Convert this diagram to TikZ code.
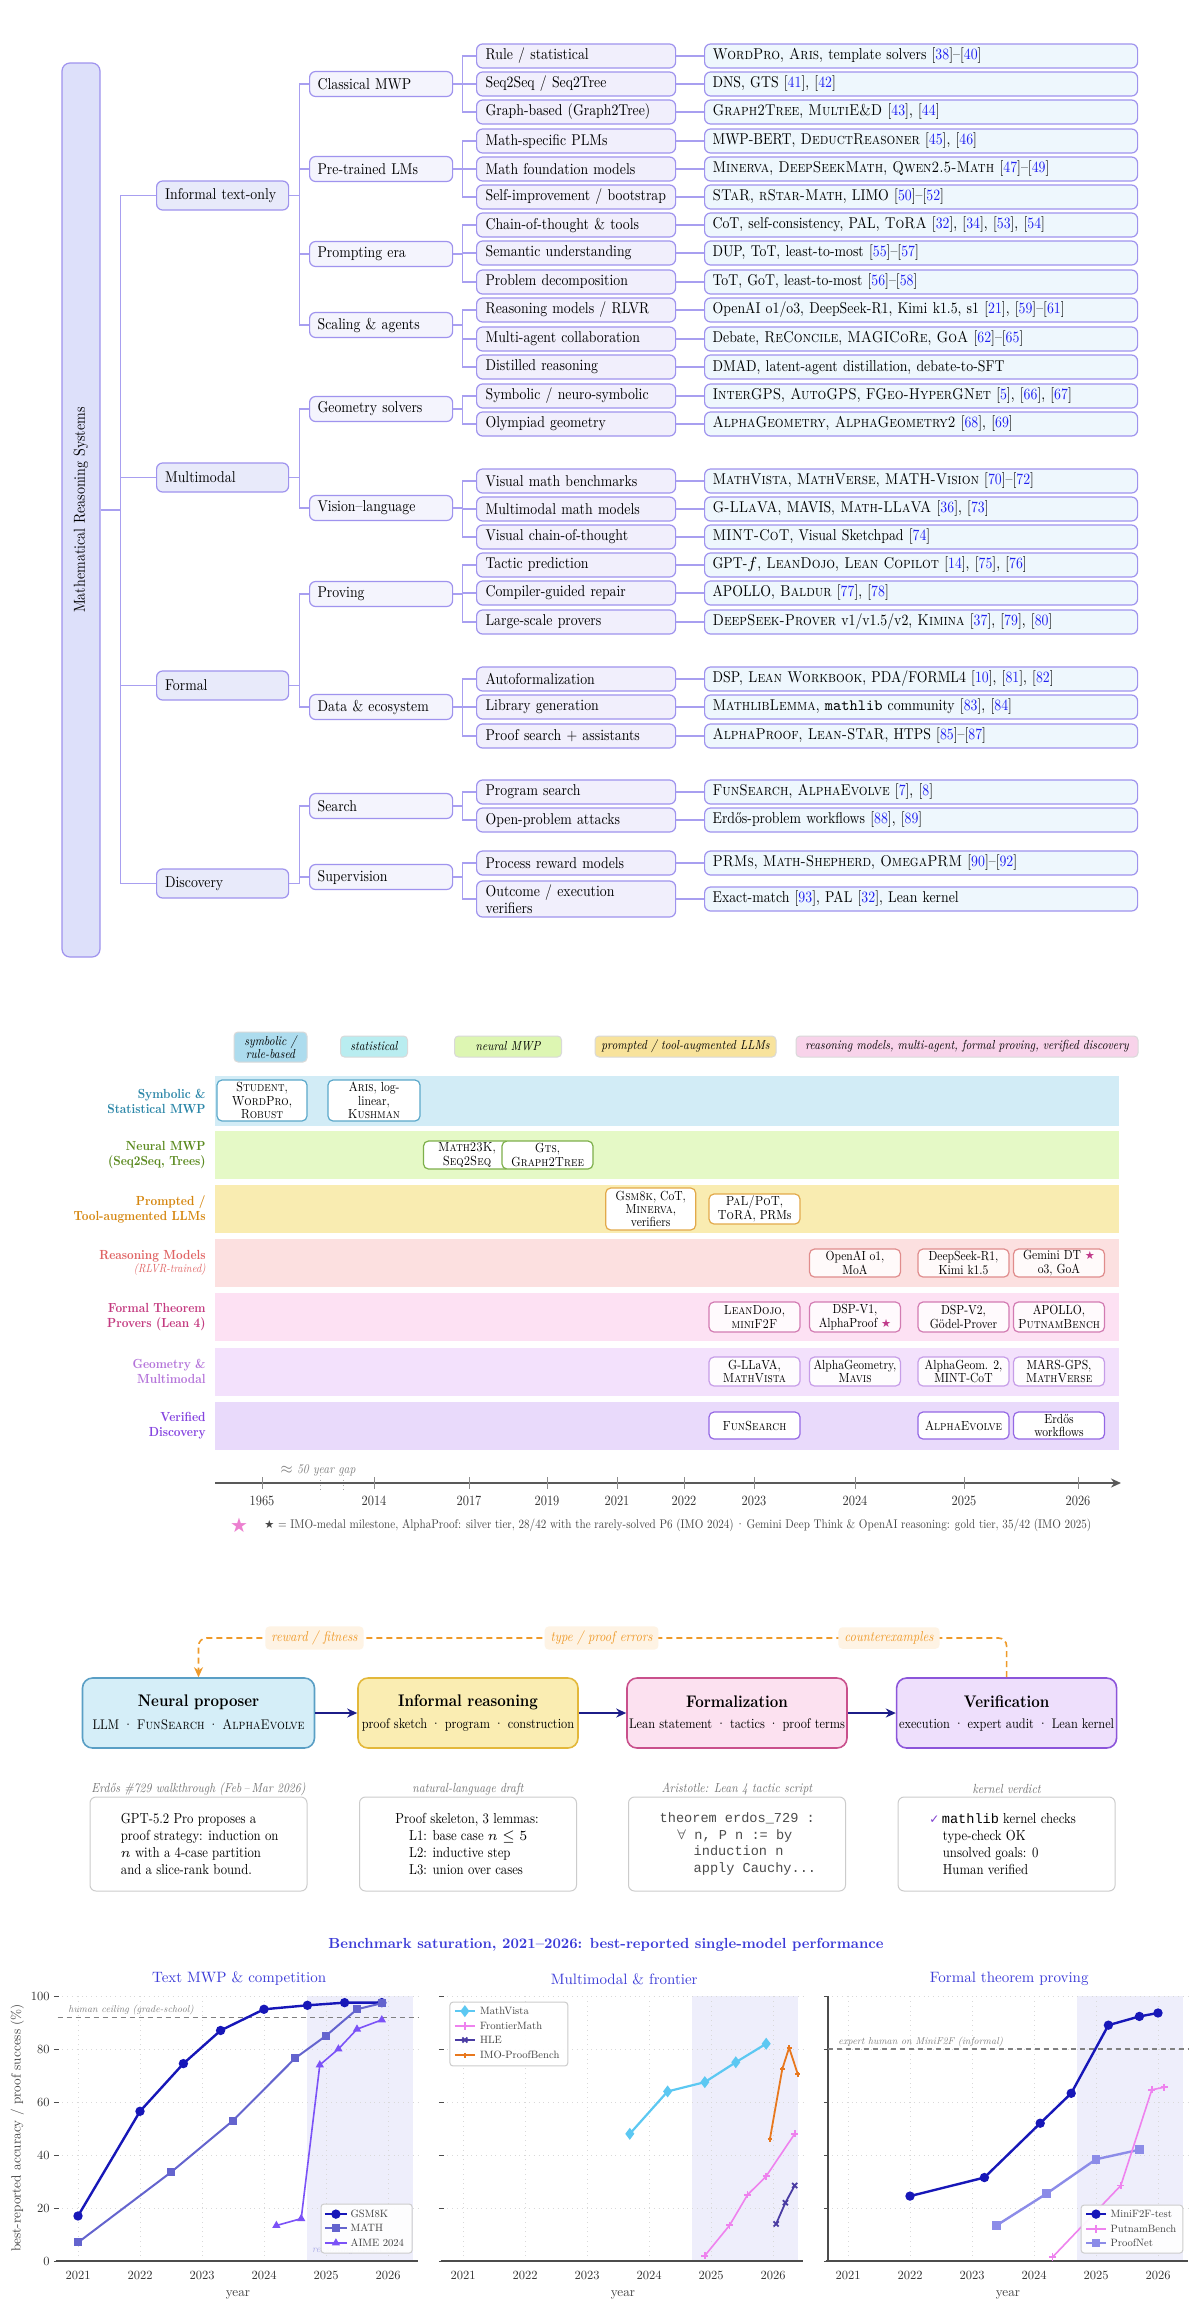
\documentclass[tikz,border=0pt]{standalone}
\usepackage{graphicx}
\usepackage{fontspec}
\setmainfont{lmroman10-regular.otf}[FakeStretch=0.88, BoldFont=lmroman10-bold.otf, ItalicFont=lmroman10-italic.otf, BoldItalicFont=lmroman10-bolditalic.otf, SmallCapsFont=lmromancaps10-regular.otf, SmallCapsFeatures={FakeStretch=0.88}]
\setmonofont{lmmono10-regular.otf}
\usetikzlibrary{arrows.meta,plotmarks,calc}
\newfontfamily\dejavu{DejaVu Sans}
\newfontfamily\codefont{Liberation Mono}
\newfontfamily\chartfont{lmroman10-regular.otf}[Ligatures=TeX, ItalicFont=lmroman10-italic.otf, BoldFont=lmroman10-bold.otf]
\newcommand\fsz[2]{\fontsize{\fpeval{#1*1.136}}{#2}\selectfont}
\newcommand\fszr[2]{\fontsize{#1}{#2}\selectfont}
% tree colours
\definecolor{refblue}{HTML}{1F1FF0}
\definecolor{tborder}{HTML}{9F93EE}
\definecolor{tline}{HTML}{A89FF0}
\definecolor{rootfill}{HTML}{DDE0FA}
\definecolor{onefill}{HTML}{E8EAFA}
\definecolor{twofill}{HTML}{F4F4FD}
\definecolor{threefill}{HTML}{F1EFFC}
\definecolor{leaffill}{HTML}{EEF7FD}
% timeline colours
\definecolor{lane1}{HTML}{D2ECF6}\definecolor{lane2}{HTML}{E5F9C6}
\definecolor{lane3}{HTML}{F9ECB1}\definecolor{lane4}{HTML}{FCE0E0}
\definecolor{lane5}{HTML}{FDE1F3}\definecolor{lane6}{HTML}{F3E1FC}
\definecolor{lane7}{HTML}{E9DAFB}
\definecolor{lab1}{HTML}{2B86A8}\definecolor{lab2}{HTML}{5B8A1F}
\definecolor{lab3}{HTML}{D5860E}\definecolor{lab4}{HTML}{E06464}
\definecolor{lab5}{HTML}{C43A80}\definecolor{lab6}{HTML}{B574DA}
\definecolor{lab7}{HTML}{8544E0}
\definecolor{ev1}{HTML}{5BA8CA}\definecolor{ev2}{HTML}{7DAF4A}
\definecolor{ev3}{HTML}{E2A94A}\definecolor{ev4}{HTML}{E08C8C}
\definecolor{ev5}{HTML}{D27BB2}\definecolor{ev6}{HTML}{C69DE8}
\definecolor{ev7}{HTML}{9468E4}
\definecolor{ch1}{HTML}{ADDCEE}\definecolor{ch2}{HTML}{B9EDF0}
\definecolor{ch3}{HTML}{DDF6B2}\definecolor{ch4}{HTML}{F8E39C}
\definecolor{ch5}{HTML}{F8D3EA}
\definecolor{cstar}{HTML}{C03A8A}\definecolor{cpinkstar}{HTML}{EC80D0}
% pipeline colours
\definecolor{neufill}{HTML}{D5EEF8}\definecolor{neudraw}{HTML}{5A9FC5}
\definecolor{inffill}{HTML}{FAEDB2}\definecolor{infdraw}{HTML}{E3B83A}
\definecolor{frmfill}{HTML}{FCE1F0}\definecolor{frmdraw}{HTML}{C9508C}
\definecolor{verfill}{HTML}{EEDFFC}\definecolor{verdraw}{HTML}{8C55DA}
\definecolor{navy}{HTML}{1C1C88}\definecolor{fborange}{HTML}{EE9A2A}
\definecolor{fbfill}{HTML}{FEF3E4}\definecolor{chk}{HTML}{8040D0}
% chart colours
\definecolor{cgsm}{HTML}{1717B8}\definecolor{cmath}{HTML}{6464CE}
\definecolor{caime}{HTML}{7B52F7}\definecolor{cmv}{HTML}{5CC8F2}
\definecolor{cfm}{HTML}{EE82EE}\definecolor{chle}{HTML}{4A3CA3}
\definecolor{cimo}{HTML}{E8781E}\definecolor{cpnet}{HTML}{8C8CE8}
\definecolor{ctitle}{HTML}{3B3BD8}\definecolor{cshade}{HTML}{EEEEFB}
\newcommand\rfn[1]{[\textcolor{refblue}{#1}]}
\tikzset{
 tl/.style={draw=tline, line width=0.6pt},
 tbox/.style={draw=tborder, line width=0.6pt, rounded corners=3pt, anchor=west, align=left, inner ysep=0pt, font=\fsz{6.9}{8.3}},
 rootb/.style={draw=tborder, fill=rootfill, line width=0.6pt, rounded corners=4pt, minimum width=19pt, minimum height=447pt, inner sep=0pt, font=\fsz{7}{8}},
 lone/.style={tbox, fill=onefill, minimum height=14.5pt, inner xsep=4.25pt, text width=57.5pt},
 ltwo/.style={tbox, fill=twofill, minimum height=12.5pt, inner xsep=4pt, text width=63.5pt},
 lthree/.style={tbox, fill=threefill, minimum height=12pt, inner xsep=4.5pt, text width=90.5pt},
 leafb/.style={tbox, fill=leaffill, minimum height=12pt, inner xsep=4pt, text width=208.5pt},
 lane/.style={minimum width=452pt, minimum height=24pt, inner sep=0pt, draw=none},
 lanelab/.style={anchor=east, align=right, font=\fsz{5.8}{7.5}\bfseries, inner sep=0pt},
 evt/.style={draw, rounded corners=2.5pt, line width=0.6pt, align=center, inner sep=0pt, minimum width=45.5pt, font=\fsz{5.8}{6.7}},
 chip/.style={draw=black!15, line width=0.5pt, rounded corners=2pt, align=center, inner sep=0pt, minimum height=10.5pt, font=\fsz{5.75}{6.7}\itshape},
 pbox/.style={rounded corners=5pt, line width=0.8pt, minimum width=110pt, minimum height=35pt, inner sep=0pt},
 ptit/.style={font=\fsz{7.4}{9}\bfseries, inner sep=0pt},
 psub/.style={font=\fsz{6.15}{8}, inner sep=0pt},
 parr/.style={draw=navy, line width=0.9pt, -{Stealth[length=5pt,width=4.5pt]}},
 fb/.style={draw=fborange, line width=0.8pt, dash pattern=on 3pt off 2pt, rounded corners=4pt, -{Stealth[length=5pt,width=4.5pt]}},
 fblab/.style={fill=fbfill, text=fborange, font=\fsz{6.3}{7}\itshape, rounded corners=2pt, inner xsep=3pt, inner ysep=2.2pt},
 exbox/.style={draw=black!20, fill=white, line width=0.5pt, rounded corners=3pt, minimum width=108.5pt, minimum height=47pt, inner sep=0pt},
 capt/.style={font=\fsz{5.8}{7}\itshape, text=black!55, inner sep=0pt},
 extxt/.style={anchor=west, align=left, inner sep=0pt, font=\fsz{6.37}{8.35}},
 chshade/.style={fill=cshade},
 chgrid/.style={draw=black!15, line width=0.4pt, dotted},
 chtick/.style={draw=black!70, line width=0.5pt},
 chaxis/.style={draw=black!70, line width=1pt},
 chtl/.style={font=\chartfont\fszr{6.25}{7}, text=black!80, inner sep=0pt},
 chxl/.style={font=\chartfont\fszr{6.6}{7}, text=black!75, inner sep=0pt},
 chtitle/.style={font=\chartfont\fszr{7.5}{9}, text=ctitle, inner sep=0pt},
 hum/.style={draw=black!50, line width=0.6pt, dash pattern=on 2.5pt off 2pt},
 humlab/.style={anchor=west, font=\chartfont\fszr{5}{6}\itshape, text=black!50, inner sep=0pt},
 legbox/.style={draw=black!20, fill=white, fill opacity=0.92, line width=0.5pt, rounded corners=1.5pt},
 chleg/.style={anchor=west, font=\chartfont\fszr{5.3}{6}, text=black!75, inner sep=0pt},
 sgsm/.style={draw=cgsm, line width=1.2pt, mark=*, mark size=1.7pt, mark options={fill=cgsm}},
 smath/.style={draw=cmath, line width=1pt, mark=square*, mark size=1.5pt, mark options={fill=cmath}},
 saime/.style={draw=caime, line width=0.8pt, mark=triangle*, mark size=1.6pt, mark options={fill=caime}},
 smv/.style={draw=cmv, line width=1.1pt, mark=diamond*, mark size=2.1pt, mark options={fill=cmv}},
 sfm/.style={draw=cfm, line width=0.8pt, mark=+, mark size=1.8pt},
 shle/.style={draw=chle, line width=0.9pt, mark=x, mark size=1.8pt},
 simo/.style={draw=cimo, line width=0.9pt, mark=+, mark size=1.2pt},
 spnet/.style={draw=cpnet, line width=1.2pt, mark=square*, mark size=1.6pt, mark options={fill=cpnet}},
}
\newcommand\trow[5]{%
 \node[lthree] (#1) at (476,#2) {#3};
 \node[leafb] (#1L) at (704,#2) {#4};
 \draw[tl] (#1.east) -- (#1L.west);
 \draw[tl] (#5.east) -- ++(4.5pt,0) |- (#1.west);}
\newcommand\panelbase[1]{%
 \fill[chshade] (3.7,0) rectangle (5.4,100);
 \foreach \vv in {20,40,60,80,100} {\draw[chgrid] (-0.33,\vv) -- (5.48,\vv);}
 \foreach \yy in {0,...,5} {\draw[chgrid] (\yy,0) -- (\yy,100);}
 \foreach \vv in {0,20,...,100} {\draw[chtick] (-0.39,\vv) -- (-0.31,\vv);}
 \draw[chaxis] (-0.36,0) -- (5.48,0);
 \foreach \yy/\yr in {0/2021,1/2022,2/2023,3/2024,4/2025,5/2026} {\node[chtl] (#1-\yr) at (\yy,-5.3) {\yr};}
 \node[chxl] (#1-xl) at (2.58,-12.8) {year};}
% style, x1, xm, x2, v, xt, text, name
\newcommand\legitem[8]{%
 \draw[#1, mark indices={2}] plot coordinates {(#2,#5) (#3,#5) (#4,#5)};
 \node[chleg] (#8) at (#6,#5) {#7};}
\begin{document}
\begin{tikzpicture}[x=0.5pt,y=-0.5pt]
\useasboundingbox (0,0) rectangle (1200,2320);
\fill[white] (0,0) rectangle (1200,2320);

%================ TREE =================
\node[rootb] (root) at (81,510) {\rotatebox{90}{Mathematical Reasoning Systems}};
\node[lone] (inf) at (156,195.5) {Informal text-only};
\node[lone] (mm) at (156,477.5) {Multimodal};
\node[lone] (fo) at (156,685.5) {Formal};
\node[lone] (di) at (156,883.5) {Discovery};
\foreach \nn in {inf,mm,fo,di} {\draw[tl] (root.east) -- ++(9.75pt,0) |- (\nn.west);}

\node[ltwo] (cm) at (309,84) {Classical MWP};
\node[ltwo] (ptl) at (309,169) {Pre-trained LMs};
\node[ltwo] (pe) at (309,254) {Prompting era};
\node[ltwo] (sa) at (309,325) {Scaling \& agents};
\node[ltwo] (gs) at (309,409) {Geometry solvers};
\node[ltwo] (vl) at (309,508) {Vision--language};
\node[ltwo] (prv) at (309,594) {Proving};
\node[ltwo] (de) at (309,707) {Data \& ecosystem};
\node[ltwo] (se) at (309,806) {Search};
\node[ltwo] (su) at (309,877) {Supervision};
\foreach \pp/\cc in {inf/cm,inf/ptl,inf/pe,inf/sa,mm/gs,mm/vl,fo/prv,fo/de,di/se,di/su}
  {\draw[tl] (\pp.east) -- ++(5.25pt,0) |- (\cc.west);}

\trow{ra}{56}{Rule / statistical}{\textsc{WordPro}, \textsc{Aris}, template solvers \rfn{38}--\rfn{40}}{cm}
\trow{rb}{84}{Seq2Seq / Seq2Tree}{DNS, GTS \rfn{41}, \rfn{42}}{cm}
\trow{rc}{112}{Graph-based (Graph2Tree)}{\textsc{Graph2Tree}, \textsc{MultiE\&D} \rfn{43}, \rfn{44}}{cm}
\trow{rd}{141}{Math-specific PLMs}{MWP-BERT, \textsc{DeductReasoner} \rfn{45}, \rfn{46}}{ptl}
\trow{re}{169}{Math foundation models}{\textsc{Minerva}, \textsc{DeepSeekMath}, \textsc{Qwen2.5-Math} \rfn{47}--\rfn{49}}{ptl}
\trow{rf}{197}{Self-improvement / bootstrap}{\textsc{STaR}, \textsc{rStar-Math}, LIMO \rfn{50}--\rfn{52}}{ptl}
\trow{rg}{225}{Chain-of-thought \& tools}{CoT, self-consistency, PAL, \textsc{ToRA} \rfn{32}, \rfn{34}, \rfn{53}, \rfn{54}}{pe}
\trow{rh}{253}{Semantic understanding}{DUP, ToT, least-to-most \rfn{55}--\rfn{57}}{pe}
\trow{ri}{282}{Problem decomposition}{ToT, GoT, least-to-most \rfn{56}--\rfn{58}}{pe}
\trow{rj}{310}{Reasoning models / RLVR}{OpenAI o1/o3, DeepSeek-R1, Kimi k1.5, s1 \rfn{21}, \rfn{59}--\rfn{61}}{sa}
\trow{rk}{339}{Multi-agent collaboration}{Debate, \textsc{ReConcile}, \textsc{MAGICoRe}, \textsc{GoA} \rfn{62}--\rfn{65}}{sa}
\trow{rl}{367}{Distilled reasoning}{DMAD, latent-agent distillation, debate-to-SFT}{sa}
\trow{rm}{396}{Symbolic / neuro-symbolic}{\textsc{InterGPS}, \textsc{AutoGPS}, \textsc{FGeo-HyperGNet} \rfn{5}, \rfn{66}, \rfn{67}}{gs}
\trow{rn}{424}{Olympiad geometry}{\textsc{AlphaGeometry}, \textsc{AlphaGeometry2} \rfn{68}, \rfn{69}}{gs}
\trow{ro}{481}{Visual math benchmarks}{\textsc{MathVista}, \textsc{MathVerse}, \textsc{MATH-Vision} \rfn{70}--\rfn{72}}{vl}
\trow{rp}{509}{Multimodal math models}{\textsc{G-LLaVA}, MAVIS, \textsc{Math-LLaVA} \rfn{36}, \rfn{73}}{vl}
\trow{rq}{537}{Visual chain-of-thought}{\textsc{MINT-CoT}, Visual Sketchpad \rfn{74}}{vl}
\trow{rr}{565}{Tactic prediction}{GPT-$f$, \textsc{LeanDojo}, \textsc{Lean Copilot} \rfn{14}, \rfn{75}, \rfn{76}}{prv}
\trow{rs}{593}{Compiler-guided repair}{APOLLO, \textsc{Baldur} \rfn{77}, \rfn{78}}{prv}
\trow{rt}{622}{Large-scale provers}{\textsc{DeepSeek-Prover} v1/v1.5/v2, \textsc{Kimina} \rfn{37}, \rfn{79}, \rfn{80}}{prv}
\trow{ru}{679}{Autoformalization}{DSP, \textsc{Lean Workbook}, PDA/FORML4 \rfn{10}, \rfn{81}, \rfn{82}}{de}
\trow{rv}{707}{Library generation}{\textsc{MathlibLemma}, \texttt{mathlib} community \rfn{83}, \rfn{84}}{de}
\trow{rw}{736}{Proof search + assistants}{\textsc{AlphaProof}, \textsc{Lean-STaR}, HTPS \rfn{85}--\rfn{87}}{de}
\trow{rx}{792}{Program search}{\textsc{FunSearch}, \textsc{AlphaEvolve} \rfn{7}, \rfn{8}}{se}
\trow{ry}{820}{Open-problem attacks}{Erdős-problem workflows \rfn{88}, \rfn{89}}{se}
\trow{rz}{863}{Process reward models}{\textsc{PRMs}, \textsc{Math-Shepherd}, \textsc{OmegaPRM} \rfn{90}--\rfn{92}}{su}
\node[lthree, minimum height=18pt] (rzz) at (476,899) {Outcome / execution\\verifiers};
\node[leafb] (rzzL) at (704,899) {Exact-match \rfn{93}, PAL \rfn{32}, Lean kernel};
\draw[tl] (rzz.east) -- (rzzL.west);
\draw[tl] (su.east) -- ++(4.5pt,0) |- (rzz.west);

%================ TIMELINE =================
\node[chip, fill=ch1, minimum width=36.5pt, minimum height=15pt] (chA) at (270.5,1047) {symbolic /\\rule-based};
\node[chip, fill=ch2, minimum width=33.5pt] (chB) at (374,1046.5) {statistical};
\node[chip, fill=ch3, minimum width=53.5pt] (chC) at (508,1046.5) {neural MWP};
\node[chip, fill=ch4, minimum width=90.5pt] (chD) at (685.5,1046.5) {prompted / tool-augmented LLMs};
\node[chip, fill=ch5, minimum width=171pt] (chE) at (967,1046.5) {reasoning models, multi-agent, formal proving, verified discovery};

\node[lane, fill=lane1, minimum height=25pt] (L1) at (667,1101) {};
\node[lane, fill=lane2] (L2) at (667,1155) {};
\node[lane, fill=lane3] (L3) at (667,1209) {};
\node[lane, fill=lane4] (L4) at (667,1263) {};
\node[lane, fill=lane5] (L5) at (667,1317) {};
\node[lane, fill=lane6] (L6) at (667,1371.5) {};
\node[lane, fill=lane7] (L7) at (667,1426) {};

\node[lanelab, text=lab1] (LL1) at (206,1101) {Symbolic \&\\Statistical MWP};
\node[lanelab, text=lab2] (LL2) at (206,1155) {Neural MWP\\(Seq2Seq, Trees)};
\node[lanelab, text=lab3] (LL3) at (206,1209) {Prompted /\\Tool-augmented LLMs};
\node[lanelab, text=lab4] (LL4) at (206,1263) {Reasoning Models\\[-1pt]{\mdseries\itshape\fsz{5.2}{6.5}(RLVR-trained)}};
\node[lanelab, text=lab5] (LL5) at (206,1317) {Formal Theorem\\Provers (Lean 4)};
\node[lanelab, text=lab6] (LL6) at (206,1371.5) {Geometry \&\\Multimodal};
\node[lanelab, text=lab7] (LL7) at (206,1426) {Verified\\Discovery};

% lane 1
\node[evt, draw=ev1, fill=white, minimum width=45pt, minimum height=20.5pt] (eStu) at (262,1100.5) {\textsc{Student},\\\textsc{WordPro},\\\textsc{Robust}};
\node[evt, draw=ev1, fill=white, minimum width=46pt, minimum height=20.5pt] (eAri) at (374,1100.5) {\textsc{Aris}, log-\\linear,\\\textsc{Kushman}};
% lane 2
\node[evt, draw=ev2, fill=white, minimum width=43.5pt, minimum height=14pt] (eM23) at (467,1155) {\textsc{Math23K},\\\textsc{Seq2Seq}};
\node[evt, draw=ev2, fill=white, minimum height=14pt] (eGts) at (547.5,1155) {\textsc{Gts},\\\textsc{Graph2Tree}};
% lane 3
\node[evt, draw=ev3, fill=white, minimum width=45pt, minimum height=21pt] (eGsm) at (650.7,1209) {\textsc{Gsm8k}, CoT,\\\textsc{Minerva},\\verifiers};
\node[evt, draw=ev3, fill=white, minimum height=15pt] (ePal) at (754.5,1209) {\textsc{PaL/PoT},\\\textsc{ToRA}, PRMs};
% lane 4
\node[evt, draw=ev4, fill=red!2, minimum height=14pt] (eO1) at (855,1263) {OpenAI o1,\\MoA};
\node[evt, draw=ev4, fill=red!2, minimum height=14pt] (eDSR) at (963.5,1263) {DeepSeek-R1,\\Kimi k1.5};
\node[evt, draw=ev4, fill=red!2, minimum height=14pt] (eGem) at (1059,1263) {Gemini DT {\dejavu\fszr{5.6}{6.7}\textcolor{cstar}{★}}\\o3, GoA};
% lane 5
\node[evt, draw=ev5, fill=magenta!2, minimum height=15pt] (eLD) at (754.5,1317) {\textsc{LeanDojo},\\\textsc{miniF2F}};
\node[evt, draw=ev5, fill=magenta!2, minimum height=15pt] (eDSP1) at (855,1317) {DSP-V1,\\AlphaProof {\dejavu\fszr{5.6}{6.7}\textcolor{cstar}{★}}};
\node[evt, draw=ev5, fill=magenta!2, minimum height=15pt] (eDSP2) at (963.5,1317) {DSP-V2,\\Gödel-Prover};
\node[evt, draw=ev5, fill=magenta!2, minimum height=15pt] (eApo) at (1059,1317) {APOLLO,\\\textsc{PutnamBench}};
% lane 6
\node[evt, draw=ev6, fill=violet!1, minimum height=14.5pt] (eGL) at (754.5,1371.5) {G-LLaVA,\\\textsc{MathVista}};
\node[evt, draw=ev6, fill=violet!1, minimum height=14.5pt] (eAG) at (855,1371.5) {AlphaGeometry,\\\textsc{Mavis}};
\node[evt, draw=ev6, fill=violet!1, minimum height=14.5pt] (eAG2) at (963.5,1371.5) {AlphaGeom. 2,\\MINT-CoT};
\node[evt, draw=ev6, fill=violet!1, minimum height=14.5pt] (eMars) at (1059,1371.5) {MARS-GPS,\\\textsc{MathVerse}};
% lane 7
\node[evt, draw=ev7, fill=white, minimum height=13.5pt] (eFun) at (754.5,1425.5) {\textsc{FunSearch}};
\node[evt, draw=ev7, fill=white, minimum height=13.5pt] (eAE) at (963.5,1425.5) {\textsc{AlphaEvolve}};
\node[evt, draw=ev7, fill=white, minimum height=13.5pt] (eErd) at (1059,1425.5) {Erdős\\workflows};

% axis
\coordinate (axL) at (215,1483);
\coordinate (axR) at (1121,1483);
\draw[draw=black!65, line width=0.9pt, -{Stealth[length=5pt,width=4.5pt]}] (axL) -- (axR);
\foreach \xx/\yr in {262/1965,374/2014,469/2017,547/2019,617/2021,684/2022,754/2023,855/2024,964/2025,1078/2026}
 {\draw[draw=black!45, line width=0.5pt] (\xx,1477) -- (\xx,1489);
  \node[font=\fsz{6.2}{7}, text=black!80, inner sep=0pt] (yr\yr) at (\xx,1501) {\yr};}
\draw[draw=black!35, line width=0.4pt, dotted] (320.7,1475) -- (320.7,1490);
\draw[draw=black!35, line width=0.4pt, dotted] (343.7,1475) -- (343.7,1490);
\node[font=\fsz{5.8}{7}\itshape, text=black!50, inner sep=0pt] (gap) at (318,1470) {$\approx$ 50 year gap};
\node[font=\dejavu\fszr{10}{10}, text=cpinkstar, inner sep=0pt] (pstar) at (239,1525) {★};
\node[anchor=west, inner sep=0pt, font=\fsz{5.55}{7}, text=black!72] (foot) at (264,1525)
 {{\dejavu\fszr{5.6}{7}★} = IMO-medal milestone, AlphaProof: silver tier, 28/42 with the rarely-solved P6 (IMO 2024)\,·\,Gemini Deep Think \& OpenAI reasoning: gold tier, 35/42 (IMO 2025)};

%================ PIPELINE =================
\node[pbox, fill=neufill, draw=neudraw, minimum width=116pt] (neu) at (198.5,1713) {};
\node[pbox, fill=inffill, draw=infdraw] (inr) at (468,1713) {};
\node[pbox, fill=frmfill, draw=frmdraw] (frm) at (737,1713) {};
\node[pbox, fill=verfill, draw=verdraw] (ver) at (1006.6,1713) {};
\node[ptit] (neuT) at (198.5,1702) {Neural proposer};
\node[psub] (neuS) at (198.5,1725) {LLM · \textsc{FunSearch} · \textsc{AlphaEvolve}};
\node[ptit] (inrT) at (468,1702) {Informal reasoning};
\node[psub] (inrS) at (468,1725) {proof sketch · program · construction};
\node[ptit] (frmT) at (737,1702) {Formalization};
\node[psub] (frmS) at (737,1725) {Lean statement · tactics · proof terms};
\node[ptit] (verT) at (1006.6,1702) {Verification};
\node[psub] (verS) at (1006.6,1725) {execution · expert audit · Lean kernel};
\draw[parr] (neu.east) -- (inr.west);
\draw[parr] (inr.east) -- (frm.west);
\draw[parr] (frm.east) -- (ver.west);
\coordinate (fbc) at (198.5,1638);
\draw[fb] (ver.north) |- (fbc) -- (neu.north);
\node[fblab] (fbA) at (314.5,1638) {reward / fitness};
\node[fblab] (fbB) at (601.6,1638) {type / proof errors};
\node[fblab] (fbC) at (889,1638) {counterexamples};

\node[capt] (cap1) at (198.5,1789) {Erdős \#729 walkthrough (Feb\,--\,Mar 2026)};
\node[capt] (cap2) at (468,1789) {natural-language draft};
\node[capt] (cap3) at (737,1789) {Aristotle: Lean 4 tactic script};
\node[capt] (cap4) at (1006.6,1789) {kernel verdict};
\node[exbox] (ex1) at (198.5,1844) {};
\node[exbox] (ex2) at (468,1844) {};
\node[exbox] (ex3) at (737,1844) {};
\node[exbox] (ex4) at (1006.6,1844) {};
\node[extxt] (ex1t) at (120.5,1844) {GPT-5.2 Pro proposes a\\proof strategy: induction on\\$n$ with a 4-case partition\\and a slice-rank bound.};
\node[extxt] (ex2t) at (395,1844) {Proof skeleton, 3 lemmas:\\\hspace*{6.85pt}L1: base case $n\le 5$\\\hspace*{6.85pt}L2: inductive step\\\hspace*{6.85pt}L3: union over cases};
\node[extxt, font=\codefont\fszr{6.8}{8.35}, text=black!70] (ex3t) at (659.3,1844) {theorem erdos\_729 :\\\hspace*{8.75pt}$\forall$ n, P n := by\\\hspace*{17pt}induction n\\\hspace*{17pt}apply Cauchy...};
\node[extxt] (ex4t) at (929,1844) {{\dejavu\fszr{6}{8.35}\textcolor{chk}{✓}}\,{\codefont\fszr{6.8}{8.35}mathlib} kernel checks\\\hspace*{6.75pt}type-check OK\\\hspace*{6.75pt}unsolved goals: 0\\\hspace*{6.75pt}Human verified};

%================ CHARTS =================
\node[font=\chartfont\fszr{7.3}{9}\bfseries, text=ctitle, inner sep=0pt] (mtitle) at (606,1945) {Benchmark saturation, 2021–2026: best-reported single-model performance};

% panel 1
\begin{scope}[shift={(78,2261)}, x=31pt, y=1.325pt]
 \panelbase{pa}
 \draw[hum] (-0.33,92) -- (5.48,92);
 \node[humlab] (paH) at (-0.16,94.9) {human ceiling (grade-school)};
 \foreach \vv in {0,20,...,100} {\node[chtl, anchor=east] (pay\vv) at (-0.45,\vv) {\vv};}
 \node[chxl, rotate=90] (paYL) at (-0.98,50.2) {best-reported accuracy / proof success (\%)};
 \node[chtitle] (paT) at (2.6,106.4) {Text MWP \& competition};
 \draw[sgsm] plot coordinates {(0,17) (1,56.5) (1.7,74.5) (2.3,87) (3,95) (3.7,96.5) (4.3,97.5) (4.9,97.5)};
 \draw[smath] plot coordinates {(0,7) (1.5,33.5) (2.5,53) (3.5,76.5) (4,85) (4.5,95) (4.9,97.3)};
 \draw[saime] plot coordinates {(3.2,13.4) (3.6,16) (3.9,74) (4.2,80) (4.5,87.5) (4.9,91)};
 \node[humlab, text=cmath!55] (paEra) at (3.77,4) {reasoning-model era};
 \draw[legbox] (3.92,3) rectangle (5.39,21.5);
 \legitem{sgsm}{3.98}{4.16}{4.34}{17.7}{4.39}{GSM8K}{paL1}
 \legitem{smath}{3.98}{4.16}{4.34}{12.5}{4.39}{MATH}{paL2}
 \legitem{saime}{3.98}{4.16}{4.34}{6.8}{4.39}{AIME 2024}{paL3}
\end{scope}

% panel 2
\begin{scope}[shift={(463,2261)}, x=31pt, y=1.325pt]
 \panelbase{pb}
 \node[chtitle] (pbT) at (2.6,106.4) {Multimodal \& frontier};
 \draw[smv] plot coordinates {(2.69,48) (3.3,64) (3.9,67.5) (4.4,75) (4.89,82)};
 \draw[sfm] plot coordinates {(3.9,2) (4.3,13.5) (4.59,25) (4.89,32) (5.35,48)};
 \draw[shle] plot coordinates {(5.05,14) (5.2,22) (5.35,28.5)};
 \draw[simo] plot coordinates {(4.95,46) (5.15,72.5) (5.26,80.5) (5.4,70.5)};
 \draw[legbox] (-0.21,73.6) rectangle (1.69,97.7);
 \legitem{smv}{-0.13}{0.03}{0.19}{94.3}{0.27}{MathVista}{pbL1}
 \legitem{sfm}{-0.13}{0.03}{0.19}{88.7}{0.27}{FrontierMath}{pbL2}
 \legitem{shle}{-0.13}{0.03}{0.19}{83.4}{0.27}{HLE}{pbL3}
 \legitem{simo}{-0.13}{0.03}{0.19}{77.7}{0.27}{IMO-ProofBench}{pbL4}
\end{scope}

% panel 3
\begin{scope}[shift={(848,2261)}, x=31pt, y=1.325pt]
 \panelbase{pc}
 \draw[chaxis, line width=0.8pt] (-0.32,0) -- (-0.32,100);
 \draw[hum] (-0.33,80) -- (5.48,80);
 \node[humlab] (pcH) at (-0.16,82.8) {expert human on MiniF2F (informal)};
 \node[chtitle] (pcT) at (2.6,106.4) {Formal theorem proving};
 \draw[sgsm] plot coordinates {(1,24.5) (2.2,31.5) (3.1,52) (3.6,63.3) (4.2,89) (4.7,92.3) (5,93.6)};
 \draw[spnet] plot coordinates {(2.4,13.5) (3.2,25.4) (4,38.4) (4.7,42)};
 \draw[sfm] plot coordinates {(3.3,1.5) (4.4,28.5) (4.9,64.6) (5.1,65.6)};
 \draw[legbox] (3.76,3) rectangle (5.40,21.1);
 \legitem{sgsm}{3.84}{4.0}{4.16}{17.7}{4.23}{MiniF2F-test}{pcL1}
 \legitem{sfm}{3.84}{4.0}{4.16}{12.1}{4.23}{PutnamBench}{pcL2}
 \legitem{spnet}{3.84}{4.0}{4.16}{6.8}{4.23}{ProofNet}{pcL3}
\end{scope}
\end{tikzpicture}
\end{document}
